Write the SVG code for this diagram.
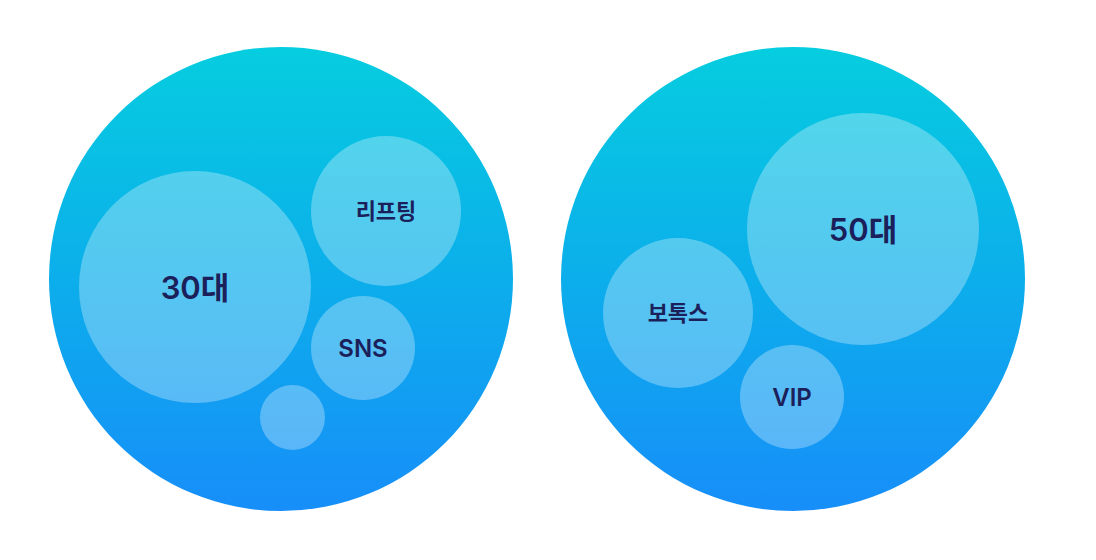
<svg xmlns="http://www.w3.org/2000/svg" width="1096" height="560" viewBox="0 0 1096 560">
<defs>
<linearGradient id="g" x1="0" y1="0" x2="0" y2="1">
<stop offset="0" stop-color="#06CDDF"/>
<stop offset="0.5" stop-color="#0CAEEB"/>
<stop offset="1" stop-color="#178EF9"/>
</linearGradient>
<style>
.outer{fill:url(#g)}
.inner{fill:#ffffff;fill-opacity:0.3}
.t{font-family:Inter,"Noto Sans CJK KR",sans-serif;font-weight:600;fill:#1B1F5A;text-anchor:middle;dominant-baseline:central}
</style>
</defs>
<rect width="1096" height="560" fill="#ffffff"/>
<g id="left">
<circle class="outer" cx="281" cy="279" r="232"/>
</g>
<g id="n30"><circle class="inner" cx="195" cy="287" r="116"/><text class="t" x="195" y="287" font-size="31">30대</text></g>
<g id="lifting"><circle class="inner" cx="386" cy="211" r="75"/><text class="t" x="386" y="211" font-size="22">리프팅</text></g>
<g id="sns"><circle class="inner" cx="363" cy="348" r="52"/><text class="t" x="363" y="348" font-size="24">SNS</text></g>
<g id="small"><circle class="inner" cx="292.5" cy="417.5" r="32.5"/></g>
<g id="right">
<circle class="outer" cx="793" cy="279" r="232"/>
</g>
<g id="n50"><circle class="inner" cx="863" cy="229" r="116"/><text class="t" x="863" y="229" font-size="31">50대</text></g>
<g id="botox"><circle class="inner" cx="678" cy="313" r="75"/><text class="t" x="678" y="313" font-size="22">보톡스</text></g>
<g id="vip"><circle class="inner" cx="792" cy="397" r="52"/><text class="t" x="792" y="397" font-size="24">VIP</text></g>
<g id="connectors"/>
</svg>
